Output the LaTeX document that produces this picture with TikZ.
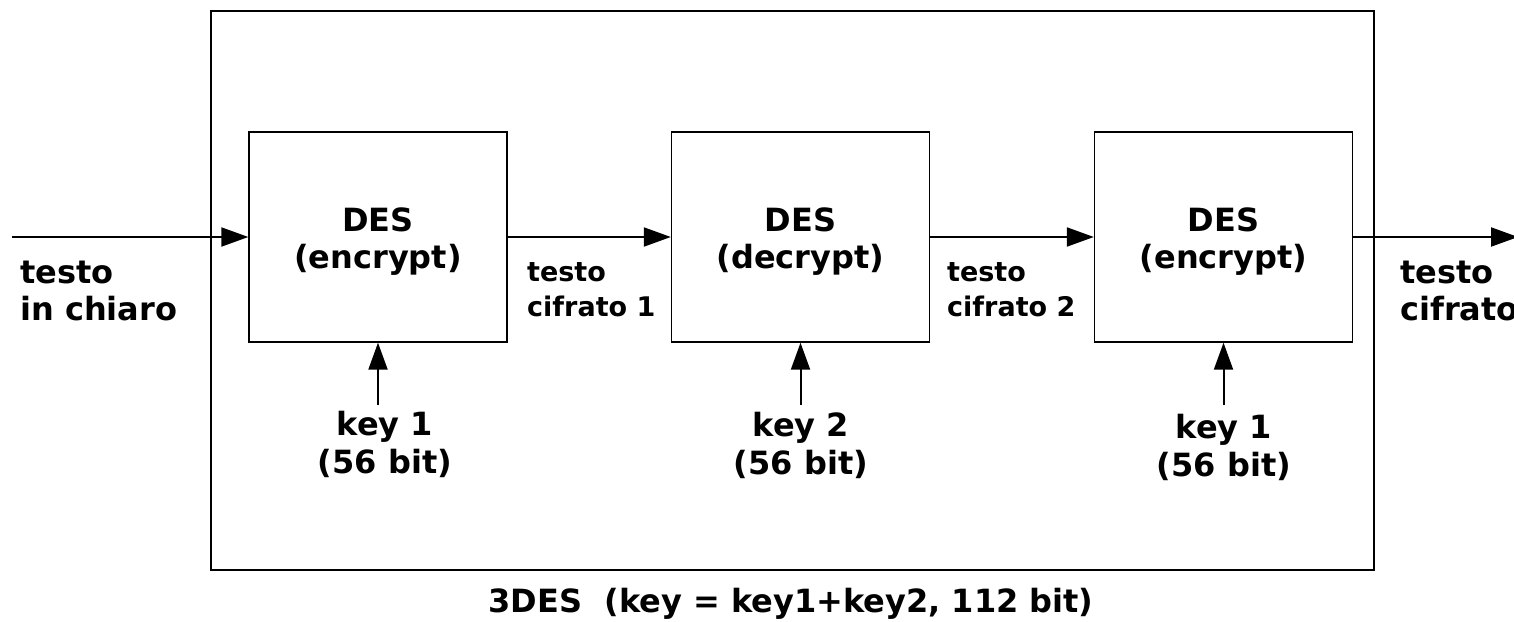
\documentclass[tikz,border=0pt]{standalone}
\usepackage{fontspec}
\setmainfont{DejaVu Sans}
\usetikzlibrary{arrows.meta}
\tikzset{
  x=1pt, y=-1pt,
  desbox/.style={draw, line width=1.4pt, minimum width=258pt, minimum height=210pt, inner sep=0pt},
  boxtxt/.style={inner sep=0pt, align=center, font=\bfseries\fontsize{32}{37}\selectfont},
  lbl/.style={inner sep=0pt, align=left, font=\bfseries\fontsize{32}{37}\selectfont},
  midlbl/.style={inner sep=0pt, align=left, font=\bfseries\fontsize{27}{35}\selectfont},
  keylbl/.style={inner sep=0pt, align=center, font=\bfseries\fontsize{32}{38}\selectfont},
  flow/.style={line width=2pt, -{Triangle[length=27pt,width=19pt]}},
}
\begin{document}
\begin{tikzpicture}
\useasboundingbox (0,0) rectangle (1514,621);
\node[draw, line width=1.4pt, minimum width=1163pt, minimum height=559pt, inner sep=0pt] (outer) at (792.5,290.5) {};
\node[desbox] (d1) at (378,237) {};
\node[desbox] (d2) at (800.5,237) {};
\node[desbox] (d3) at (1223.5,237) {};
\node[boxtxt] (t1) at (378,242) {DES\\(encrypt)};
\node[boxtxt] (t2) at (800.5,242) {DES\\(decrypt)};
\node[boxtxt] (t3) at (1223.5,242) {DES\\(encrypt)};
\coordinate (in) at (12,237);
\coordinate (out) at (1518,237);
\draw[flow] (in) -- (d1.west);
\draw[flow] (d1.east) -- (d2.west);
\draw[flow] (d2.east) -- (d3.west);
\draw[flow] (d3.east) -- (out);
\coordinate (k1) at (378,405);
\coordinate (k2) at (800.5,405);
\coordinate (k3) at (1223.5,405);
\draw[flow] (k1) -- (d1.south);
\draw[flow] (k2) -- (d2.south);
\draw[flow] (k3) -- (d3.south);
\node[keylbl, anchor=north] (kl1) at (385,411) {key 1\\(56 bit)};
\node[keylbl, anchor=north] (kl2) at (801,412) {key 2\\(56 bit)};
\node[keylbl, anchor=north] (kl3) at (1224,414) {key 1\\(56 bit)};
\node[lbl, anchor=north west] (lin) at (20,261) {testo\\in chiaro};
\node[midlbl, anchor=north west] (lc1) at (527,262) {testo\\cifrato 1};
\node[midlbl, anchor=north west] (lc2) at (947,262) {testo\\cifrato 2};
\node[lbl, anchor=north west] (lout) at (1400,261) {testo\\cifrato};
\node[inner sep=0pt, font=\bfseries\fontsize{32}{37}\selectfont, anchor=base] (title) at (791,612) {3DES\ \ (key = key1+key2, 112 bit)};
\end{tikzpicture}
\end{document}
